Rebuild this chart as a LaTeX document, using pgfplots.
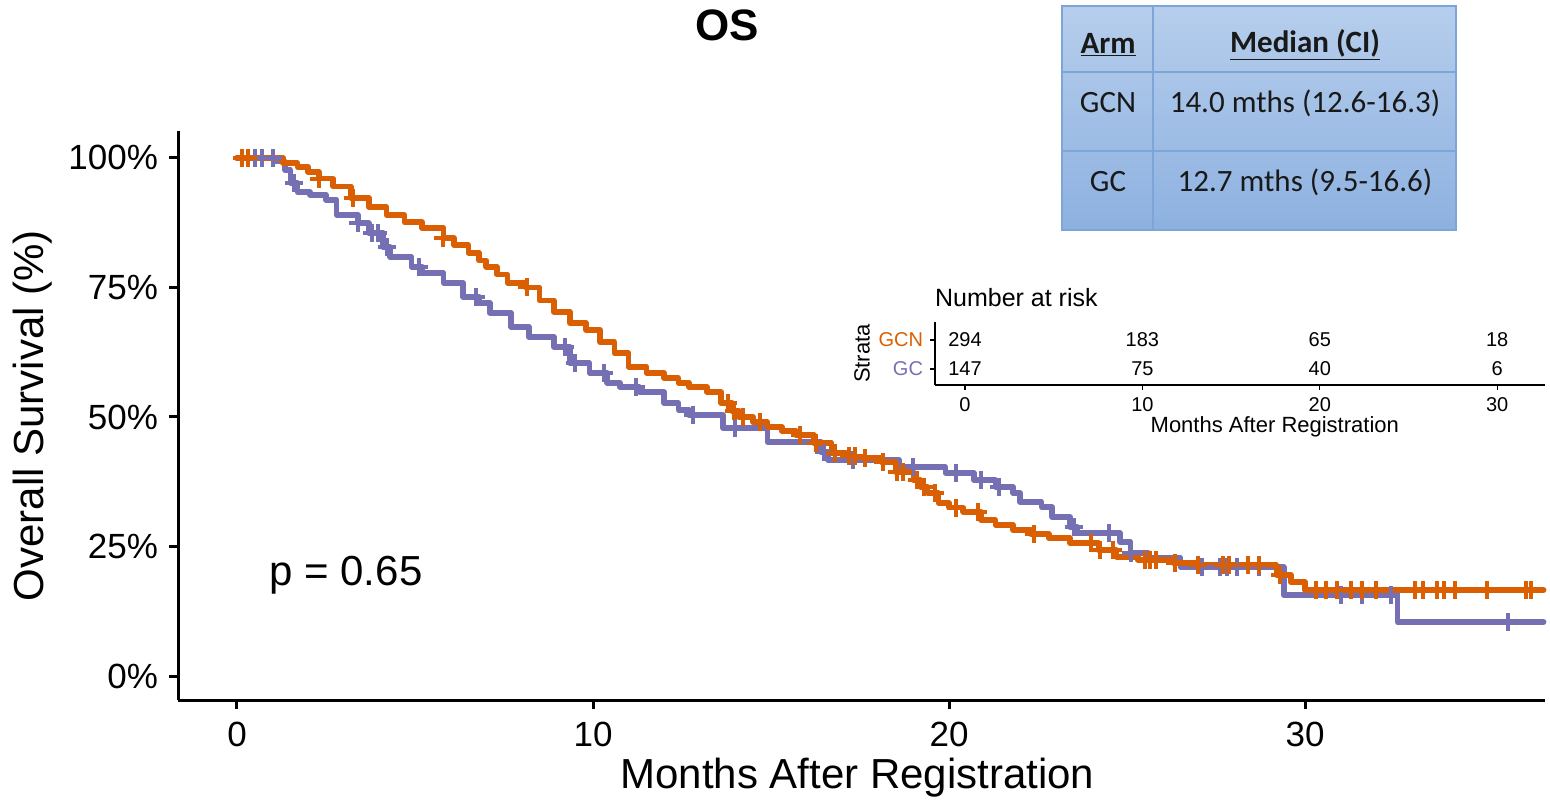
\documentclass[border=0pt]{standalone}
\usepackage{pgfplots}
\pgfplotsset{compat=1.18}
\usepackage{fontspec}
\setmainfont{Liberation Sans}
\newfontfamily\carlito{Carlito}
\definecolor{gcn}{HTML}{D95F02}
\definecolor{gc}{HTML}{7570B3}
\definecolor{tabtop}{HTML}{B6CEEC}
\definecolor{tabbot}{HTML}{8DB1E0}
\definecolor{tabline}{HTML}{7EA5D8}

\pgfplotstableread{
x y
0 100
1.3 99
1.7 98.3
2.0 97.3
2.3 96
2.7 94.5
3.2 92.3
3.7 90.5
4.2 89
4.7 87.6
5.2 86.5
5.8 84.5
6.1 83.2
6.5 81.7
6.8 80.2
7.0 79
7.3 77.5
7.6 75.9
8.1 75
8.5 72.5
8.9 70.3
9.35 68.1
9.8 66.8
10.2 64.5
10.6 62.3
11.0 59.7
11.5 58.5
12.0 57.5
12.4 56.6
12.7 55.8
13.2 54.8
13.6 52.7
13.9 51.2
14.1 50
14.5 49
14.9 48.1
15.3 47.3
15.7 46.5
16.2 45
16.7 43
17.1 42.4
17.6 42.1
18.1 41.3
18.5 39.4
19.0 37.8
19.2 36.5
19.4 35.3
19.7 33.4
20.0 32.5
20.4 31.7
20.9 30.1
21.3 29.2
21.8 28.2
22.3 27.4
22.8 26.6
23.4 25.7
24.2 24.3
24.7 23
25.3 22.4
26.3 21.8
27.0 21.4
29.2 19.5
29.6 18.1
30.0 16.6
36.7 16.6
}\gcnkm

\pgfplotstableread{
x y
0.15 100
0.3 100
2.3 96
3.25 92.3
5.8 84.5
8.15 75
13.8 52.7
13.95 51.2
14.2 50
14.7 49
15.8 46.5
16.25 45
16.8 43
17.2 42.4
17.35 42.4
17.65 42.1
18.15 41.3
18.55 39.4
18.7 39.4
19.1 37.8
19.3 36.5
19.6 35.3
20.2 32.5
20.8 31.7
22.4 27.4
24.0 25.7
24.25 24.3
24.6 24.3
25.5 22.4
25.65 22.4
25.8 22.4
26.35 21.8
27.0 21.4
27.7 21.4
27.85 21.4
28.4 21.4
28.7 21.4
29.3 19.5
30.3 16.6
30.6 16.6
30.9 16.6
31.3 16.6
31.6 16.6
32.0 16.6
33.1 16.6
33.3 16.6
33.7 16.6
33.9 16.6
34.2 16.6
35.1 16.6
36.2 16.6
36.35 16.6
}\gcncens

\pgfplotstableread{
x y
0 100
1.1 99.3
1.35 97.7
1.5 95.2
1.7 93.4
2.05 92.9
2.5 91.9
2.8 89
3.4 87.4
3.7 85.5
4.1 82.8
4.3 80.9
4.9 79
5.2 77.8
5.8 75.9
6.35 73.2
6.8 72
7.1 70.1
7.7 67.4
8.2 65.4
8.9 63.5
9.35 60.4
9.9 58.5
10.4 56.6
10.75 55.8
11.3 54.8
12.0 52.7
12.4 51.4
12.7 50.4
13.65 47.9
14.9 45.2
16.4 43.2
16.6 41.7
18.6 40.3
19.9 39.2
20.7 37.8
21.3 36.5
21.8 35.3
22.0 33.6
22.6 32.6
22.9 30.7
23.4 28.8
23.6 27.6
24.8 25.9
25.1 23.7
25.6 22.8
26.5 21
29.4 15.6
32.6 10.4
36.7 10.4
}\gckm

\pgfplotstableread{
x y
0.5 100
0.7 100
1.0 100
1.6 95.2
3.4 87.4
3.8 85.5
3.95 85.5
4.2 82.8
5.1 79
6.7 73.2
9.2 63.5
9.5 60.4
10.3 58.5
11.2 55.8
12.8 50.4
14.0 47.9
16.5 43.2
17.3 41.7
19.0 40.3
20.2 39.2
20.9 37.8
21.4 36.5
23.5 28.8
24.5 27.6
25.1 23.7
27.1 21
27.6 21
27.8 21
28.1 21
28.7 21
31.0 15.6
31.6 15.6
32.4 15.6
35.7 10.4
}\gccens

\pgfplotstableread{
x y n
0 0.714 294
10 0.714 183
20 0.714 65
30 0.714 18
0 0.254 147
10 0.254 75
20 0.254 40
30 0.254 6
}\risk

\begin{document}
\begin{tikzpicture}
\path[use as bounding box] (0,0) rectangle (775pt,401pt);

\begin{axis}[
  at={(89pt,51pt)}, anchor=south west, scale only axis,
  width=683.5pt, height=284.5pt,
  xmin=-1.657, xmax=36.74, ymin=-4.63, ymax=105.2,
  axis x line*=bottom, axis y line*=left,
  axis line style={line width=1.5pt, black, -},
  tick style={line width=1.5pt, black},
  tick align=outside, major tick length=4.5pt,
  xtick={0,10,20,30}, ytick={0,25,50,75,100},
  yticklabel={\pgfmathprintnumber{\tick}\%},
  /pgf/number format/assume math mode=true,
  ticklabel style={font=\fontsize{17.5}{20}\selectfont},
  xticklabel style={yshift=-3pt},
  yticklabel style={xshift=-2pt},
  xlabel={Months After Registration},
  ylabel={Overall Survival (\%)},
  label style={font=\fontsize{21}{24}\selectfont},
  xlabel style={at={(axis description cs:0.497,-0.137)}, anchor=center},
  ylabel style={at={(axis description cs:-0.1061,0.5)}, anchor=center},
  clip=false,
]
\addplot[const plot, gc, line width=2.8pt, line join=round, line cap=round] table {\gckm};
\addplot[const plot, gcn, line width=2.8pt, line join=round, line cap=round] table {\gcnkm};
\addplot[only marks, mark=+, mark size=4.5pt, gc, mark options={line width=2pt}] table {\gccens};
\addplot[only marks, mark=+, mark size=4.5pt, gcn, mark options={line width=2pt}] table {\gcncens};
\node[font=\fontsize{21}{24}\selectfont] at (axis cs:3.06,19.5) {p = 0.65};
\end{axis}

\node[font=\bfseries\fontsize{22}{26}\selectfont] at (363.5pt,388.5pt) {OS};

% Median table
\shade[top color=tabtop, bottom color=tabbot] (531pt,286pt) rectangle (728pt,398pt);
\draw[tabline, line width=0.6pt] (531pt,286pt) rectangle (728pt,398pt);
\draw[tabline, line width=0.6pt] (576.5pt,286pt) -- (576.5pt,398pt);
\draw[tabline, line width=0.6pt] (531pt,365pt) -- (728pt,365pt);
\draw[tabline, line width=0.6pt] (531pt,325.5pt) -- (728pt,325.5pt);
\begin{scope}[every node/.style={font=\carlito\fontsize{15.5}{18}\selectfont, text=black!90}]
\node at (554pt,378.5pt) {\bfseries\underline{Arm}};
\node at (652.5pt,378.5pt) {\bfseries\underline{Median (CI)}};
\node at (554pt,349.5pt) {GCN};
\node at (652.5pt,349.5pt) {14.0 mths (12.6-16.3)};
\node at (554pt,310pt) {GC};
\node at (652.5pt,310pt) {12.7 mths (9.5-16.6)};
\end{scope}

% Number at risk inset
\begin{axis}[
  at={(467.5pt,208.5pt)}, anchor=south west, scale only axis,
  width=305pt, height=31.5pt,
  xmin=-1.69, xmax=32.7, ymin=0, ymax=1,
  axis x line*=bottom, axis y line*=left,
  axis line style={line width=0.6pt, black, -},
  tick style={line width=0.6pt, black},
  tick align=outside, major tick length=2.5pt,
  xtick={0,10,20,30}, ytick={0.254,0.714},
  yticklabels={\textcolor{gc}{GC},\textcolor{gcn}{GCN}},
  /pgf/number format/assume math mode=true,
  ticklabel style={font=\fontsize{10}{12}\selectfont},
  xlabel={Months After Registration},
  ylabel={Strata},
  label style={font=\fontsize{11}{13}\selectfont},
  xlabel style={at={(axis description cs:0.557,-0.667)}, anchor=center},
  ylabel style={at={(axis description cs:-0.1197,0.5)}, anchor=center},
  title={Number at risk},
  title style={at={(axis description cs:0,1)}, anchor=west, yshift=6pt, xshift=-3.5pt, font=\fontsize{12.5}{15}\selectfont},
  clip=false,
]
\addplot[draw=none, mark=none, nodes near coords, point meta=explicit symbolic,
  nodes near coords align={center},
  every node near coord/.append style={font=\fontsize{10}{12}\selectfont, anchor=center}]
  table[meta=n] {\risk};
\end{axis}
\end{tikzpicture}
\end{document}
